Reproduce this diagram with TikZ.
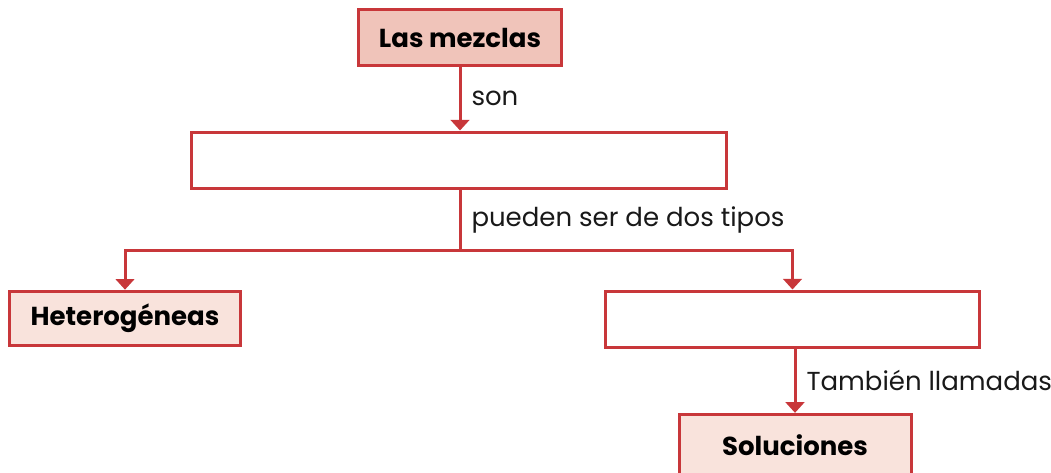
\documentclass[tikz,border=0pt]{standalone}
\usepackage{fontspec}
\setmainfont{Poppins}
\usepackage{xcolor}
\usetikzlibrary{arrows.meta}

\definecolor{mapred}{HTML}{C8373A}
\definecolor{darkpink}{HTML}{F0C4BA}
\definecolor{lightpink}{HTML}{F9E3DC}

\tikzset{
  mapbox/.style={draw=mapred, line width=2.25pt, inner sep=0pt, font=\bfseries\fontsize{19.5}{22}\selectfont},
  maparrow/.style={draw=mapred, line width=2.25pt, -{Triangle[width=14pt,length=8pt]}},
  mapline/.style={draw=mapred, line width=2.25pt},
  linklabel/.style={right, inner sep=0pt, xshift=7.5pt, font=\fontsize{19.5}{22}\selectfont, text=black!90}
}

\begin{document}
\begin{tikzpicture}[x=0.75pt, y=-0.75pt]
    \useasboundingbox (0,0) rectangle (1051,472);
    % Concept boxes
    \node[mapbox, fill=darkpink, minimum width=152pt, minimum height=42pt] (mezclas) at (460,37.5) {Las mezclas};
    \node[mapbox, fill=white, minimum width=401pt, minimum height=42pt] (tipos) at (459,160) {};
    \node[mapbox, fill=lightpink, minimum width=173pt, minimum height=41pt] (hetero) at (125,318.5) {Heterogéneas};
    \node[mapbox, fill=white, minimum width=281pt, minimum height=42pt] (homo) at (792.5,319) {};
    \node[mapbox, fill=lightpink, minimum width=174pt, minimum height=46pt] (soluc) at (795,445) {Soluciones};
    % Branch point
    \coordinate (junc) at (460,250);
    % Connectors
    \draw[maparrow] (mezclas.south) -- node[linklabel] {son} (mezclas.south |- tipos.north);
    \draw[mapline] (junc |- tipos.south) -- node[linklabel] {pueden ser de dos tipos} (junc);
    \draw[maparrow] (junc) -| (hetero.north);
    \draw[maparrow] (junc) -| (homo.north);
    \draw[maparrow] (soluc.north |- homo.south) -- node[linklabel] {También llamadas} (soluc.north);
\end{tikzpicture}
\end{document}
